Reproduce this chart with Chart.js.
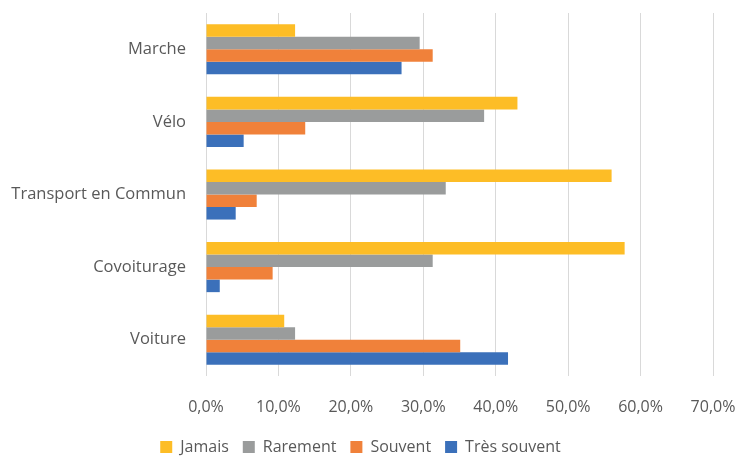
<!DOCTYPE html>
<html>
<head>
<meta charset="utf-8">
<script src="https://cdn.jsdelivr.net/npm/chart.js@4"></script>
<style>
  html, body { margin: 0; padding: 0; background: #fff; }
  #wrap { width: 739px; height: 457px; }
</style>
</head>
<body>
<div id="wrap"><canvas id="modes"></canvas></div>
<script>
var categories = ['Marche', 'Vélo', 'Transport en Commun', 'Covoiturage', 'Voiture'];
var jamais = [12.3, 43.0, 56.0, 57.8, 10.8];
var rarement = [29.5, 38.4, 33.1, 31.3, 12.3];
var souvent = [31.3, 13.7, 7.0, 9.2, 35.1];
var tresSouvent = [27.0, 5.2, 4.1, 1.9, 41.7];
var xTicks = [0, 10, 20, 30, 40, 50, 60, 70];

Chart.defaults.font.family = '"Open Sans", Lato, sans-serif';
Chart.defaults.font.size = 16;
Chart.defaults.color = '#595959';

// plot bottom and legend row centre, as in the original
var plotBottom = 376;
var legendMid = 447;
var legendPad = 14;

var legendShift = {
    id: 'legendShift',
    afterLayout: function (chart) {
        var lg = chart.legend;
        var d = legendMid - (lg.top + legendPad + 8);
        lg.top += d;
        lg.bottom += d;
    }
};

var ctx = document.getElementById('modes');
var modesChart = new Chart(ctx, {
    type: 'bar',
    data: {
        labels: categories,
        datasets: [
            { label: 'Jamais', data: jamais, backgroundColor: '#FDBD26' },
            { label: 'Rarement', data: rarement, backgroundColor: '#9A9C9C' },
            { label: 'Souvent', data: souvent, backgroundColor: '#F0813A' },
            { label: 'Très souvent', data: tresSouvent, backgroundColor: '#3B70BA' }
        ]
    },
    options: {
        indexAxis: 'y',
        responsive: true,
        maintainAspectRatio: false,
        animation: false,
        datasets: {
            bar: { categoryPercentage: 0.69, barPercentage: 1.0 }
        },
        layout: {
            padding: { top: 13, right: 26, bottom: 0, left: 8 }
        },
        scales: {
            x: {
                min: 0,
                max: 70,
                afterBuildTicks: function (axis) {
                    axis.ticks = xTicks.map(function (v) { return { value: v }; });
                },
                afterFit: function (axis) {
                    axis.height = (457 - axis.chart.legend.height) - plotBottom;
                    axis.paddingLeft = 0;
                    axis.paddingRight = 0;
                },
                grid: { color: '#D9D9D9', lineWidth: 1, drawTicks: false },
                border: { display: false },
                ticks: {
                    padding: 22,
                    callback: function (v) { return v.toFixed(1).replace('.', ',') + '%'; }
                }
            },
            y: {
                afterFit: function (axis) {
                    axis.width = 198;
                    axis.paddingTop = 0;
                    axis.paddingBottom = 0;
                },
                grid: { display: false, drawTicks: false },
                border: { display: false },
                ticks: { padding: 20, font: { size: 16.5 } }
            }
        },
        plugins: {
            legend: {
                position: 'bottom',
                labels: { boxWidth: 12, boxHeight: 12, padding: legendPad }
            },
            tooltip: { enabled: false }
        }
    },
    plugins: [legendShift]
});
</script>
</body>
</html>
